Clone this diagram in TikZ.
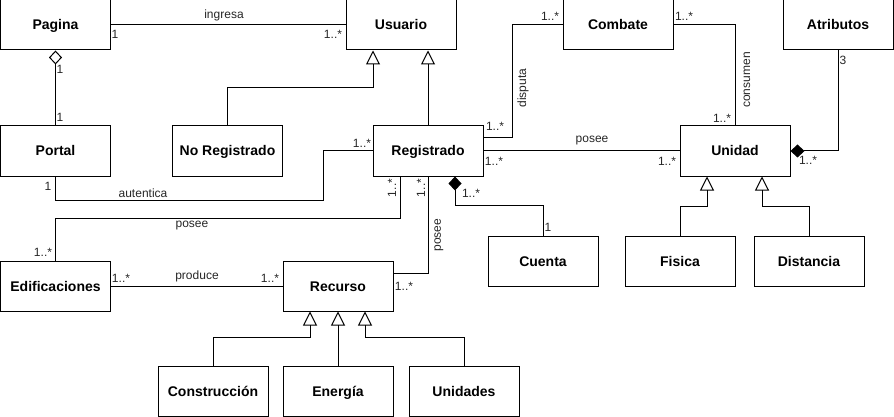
\documentclass[tikz,border=0pt]{standalone}
\usepackage{fontspec}
\setmainfont{Liberation Sans}
\usetikzlibrary{arrows.meta}
\begin{document}
\begin{tikzpicture}[x=1pt,y=-1pt,line width=1pt,
  cls/.style={draw, minimum width=110pt, minimum height=50pt, inner sep=0pt, text height=10pt, text depth=0pt, font=\bfseries\fontsize{14}{16}\selectfont},
  lab/.style={font=\fontsize{12}{14}\selectfont, inner sep=0pt, text=black!85},
  gen/.style={-{Triangle[open,length=14pt,width=14pt]}},
  agg/.style={-{Diamond[open,length=14pt,width=13pt]}},
  comp/.style={-{Diamond[length=14pt,width=13pt]}}]
\useasboundingbox (0,0) rectangle (894,417);
% classes
\node[cls] (pagina) at (55.5,25) {Pagina};
\node[cls] (usuario) at (401,25) {Usuario};
\node[cls] (combate) at (618,25) {Combate};
\node[cls] (atributos) at (838,25) {Atributos};
\node[cls] (portal) at (55.5,151) {Portal};
\node[cls] (noreg) at (227.5,151) {No Registrado};
\node[cls] (reg) at (428,151) {Registrado};
\node[cls] (unidad) at (735,151) {Unidad};
\node[cls] (edif) at (55.5,286) {Edificaciones};
\node[cls] (recurso) at (338,286) {Recurso};
\node[cls] (cuenta) at (543,261) {Cuenta};
\node[cls] (fisica) at (680,261) {Fisica};
\node[cls] (distancia) at (809,261) {Distancia};
\node[cls] (constr) at (213,391) {Construcción};
\node[cls] (energia) at (338,391) {Energía};
\node[cls] (unidades) at (464,391) {Unidades};
% connectors
\draw (pagina.east) -- (usuario.west);
\draw[agg] (portal.north) -- (pagina.south);
\draw[gen] (noreg.north) -- ++(0,-38) -| ([xshift=-28pt]usuario.south);
\draw[gen] (reg.north) -- ([xshift=27pt]usuario.south);
\draw (portal.south) -- ++(0,24) -- ++(268,0) |- (reg.west);
\draw ([xshift=-28pt]reg.south) -- ++(0,42) -| (edif.north);
\draw (reg.south) |- ([yshift=13pt]recurso.east);
\draw[comp] (cuenta.north) |- ++(-88,-30) -- ([xshift=27pt]reg.south);
\draw ([yshift=13pt]reg.east) -- ++(29,0) |- (combate.west);
\draw (reg.east) -- (unidad.west);
\draw (combate.east) -| (unidad.north);
\draw[comp] (atributos.south) |- (unidad.east);
\draw[gen] (fisica.north) -- ++(0,-29) -| ([xshift=-28pt]unidad.south);
\draw[gen] (distancia.north) -- ++(0,-29) -| ([xshift=27pt]unidad.south);
\draw (edif.east) -- (recurso.west);
\draw[gen] (constr.north) -- ++(0,-28) -| ([xshift=-28pt]recurso.south);
\draw[gen] (energia.north) -- (recurso.south);
\draw[gen] (unidades.north) -- ++(0,-28) -| ([xshift=27pt]recurso.south);
% labels
\node[lab] (t1) at (224,15) {ingresa};
\node[lab] (t2) at (115,34) {1};
\node[lab] (t3) at (333,34) {1..*};
\node[lab] (t4) at (60,69) {1};
\node[lab] (t5) at (60,117) {1};
\node[lab] (t6) at (48,186) {1};
\node[lab] (t7) at (143,193) {autentica};
\node[lab] (t8) at (362,143) {1..*};
\node[lab] (t9) at (192,226) {posee};
\node[lab] (t10) at (43,252) {1..*};
\node[lab,rotate=90] (t11) at (392,188) {1..*};
\node[lab,rotate=90] (t12) at (421,188) {1..*};
\node[lab,rotate=90] (t13) at (439,235) {posee};
\node[lab] (t14) at (404,286) {1..*};
\node[lab] (t15) at (197,276) {produce};
\node[lab] (t16) at (121,278) {1..*};
\node[lab] (t17) at (270,278) {1..*};
\node[lab] (t18) at (495,126) {1..*};
\node[lab,rotate=90] (t19) at (523,88) {disputa};
\node[lab] (t20) at (550,16) {1..*};
\node[lab] (t21) at (684,16) {1..*};
\node[lab,rotate=90] (t22) at (747,80) {consumen};
\node[lab] (t23) at (722,118) {1..*};
\node[lab] (t24) at (843,60) {3};
\node[lab] (t25) at (592,141) {posee};
\node[lab] (t26) at (494,161) {1..*};
\node[lab] (t27) at (667,161) {1..*};
\node[lab] (t28) at (808,160) {1..*};
\node[lab] (t29) at (471,193) {1..*};
\node[lab] (t30) at (548,227) {1};
\end{tikzpicture}
\end{document}
